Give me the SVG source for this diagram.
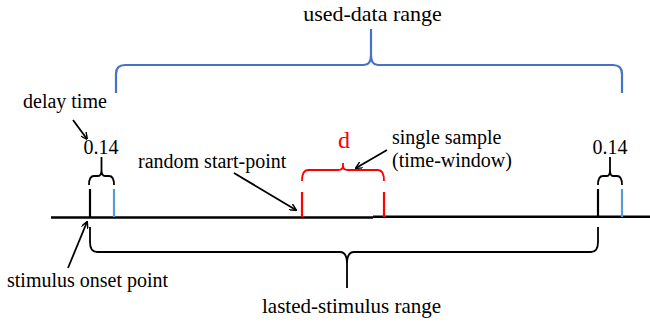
<svg xmlns="http://www.w3.org/2000/svg" width="650" height="327" viewBox="0 0 650 327">
  <defs>
    <style>
      text { font-family: "Liberation Serif", "Times New Roman", serif; fill: #000; }
      .t20 { font-size: 20px; }
      .line { fill: none; stroke: #000; stroke-width: 2.5; }
      .tick { fill: none; stroke: #000; stroke-width: 2.2; }
      .tick-blue { fill: none; stroke: #5B9BD5; stroke-width: 2.2; }
      .tick-red { fill: none; stroke: #FF0000; stroke-width: 2.2; }
      .brace { fill: none; stroke: #000; stroke-width: 1.8; stroke-linejoin: round; }
      .brace-blue { fill: none; stroke: #4472C4; stroke-width: 2.2; stroke-linejoin: round; }
      .brace-red { fill: none; stroke: #FF0000; stroke-width: 1.8; stroke-linejoin: round; }
      .arrow { fill: none; stroke: #000; stroke-width: 1.8; marker-end: url(#head); }
    </style>
    <marker id="head" viewBox="0 0 10 10" refX="9" refY="5" markerWidth="7" markerHeight="7" markerUnits="userSpaceOnUse" orient="auto">
      <path d="M0,0 L10,5 L0,10" fill="none" stroke="#000" stroke-width="2"/>
    </marker>
  </defs>

  <!-- time axis -->
  <g id="axis">
    <line class="line" x1="51" y1="217.5" x2="373" y2="217.5"/>
    <line class="line" x1="373" y1="216.8" x2="650" y2="216.8"/>
  </g>

  <!-- stimulus onset / end ticks with delay marks -->
  <g id="onset-start">
    <line class="tick" x1="90" y1="189" x2="90" y2="217"/>
    <line class="tick-blue" x1="114" y1="189" x2="114" y2="217"/>
    <path class="brace" d="M89,185 Q89,176 94,176 L98,176 Q101.5,176 101.5,170 L101.5,157 M101.5,170 Q101.5,176 105,176 L109,176 Q114,176 114,185"/>
    <text class="t20" x="101" y="154" text-anchor="middle">0.14</text>
  </g>

  <g id="onset-end">
    <line class="tick" x1="598" y1="189" x2="598" y2="217"/>
    <line class="tick-blue" x1="622" y1="189" x2="622" y2="217"/>
    <path class="brace" d="M598,185 Q598,176 603,176 L607,176 Q610,176 610,170 L610,157 M610,170 Q610,176 613,176 L617,176 Q622,176 622,185"/>
    <text class="t20" x="610" y="154" text-anchor="middle">0.14</text>
  </g>

  <!-- sample time-window -->
  <g id="sample-window">
    <line class="tick-red" x1="302" y1="192" x2="302" y2="217"/>
    <line class="tick-red" x1="384" y1="192" x2="384" y2="217"/>
    <path class="brace-red" d="M302,181 Q302,170 308,170 L338,170 Q343,170 343,166 L343,163 M343,166 Q343,170 348,170 L378,170 Q384,170 384,181"/>
    <text x="344" y="148" text-anchor="middle" style="font-size:24px; fill:#FF0000">d</text>
  </g>

  <!-- used-data range brace -->
  <g id="used-data-range">
    <path class="brace-blue" d="M116,93 L116,74 Q116,65 125,65 L364,65 Q371,65 371,55 L371,29 M371,55 Q371,65 378,65 L613,65 Q622,65 622,74 L622,93"/>
    <text x="372.5" y="21" text-anchor="middle" style="font-size:22px">used-data range</text>
  </g>

  <!-- lasted-stimulus range brace -->
  <g id="lasted-stimulus-range">
    <path class="brace" d="M90,227 L90,242 Q90,252 97,252 L340,252 Q347,252 347,264 L347,288 M347,264 Q347,252 354,252 L591,252 Q598,252 598,242 L598,227"/>
    <text x="262" y="313" style="font-size:21px">lasted-stimulus range</text>
  </g>

  <!-- annotation labels -->
  <g id="label-delay">
    <text class="t20" x="23" y="108">delay time</text>
  </g>
  <g id="label-random-start">
    <text class="t20" x="138" y="168">random start-point</text>
  </g>
  <g id="label-single-sample">
    <text class="t20" x="392" y="144">single sample</text>
    <text class="t20" x="392" y="167">(time-window)</text>
  </g>
  <g id="label-onset">
    <text class="t20" x="7" y="287">stimulus onset point</text>
  </g>

  <!-- pointer arrows -->
  <g id="connectors">
    <line class="arrow" x1="73" y1="120" x2="87" y2="139"/>
    <line class="arrow" x1="234" y1="173" x2="296" y2="210"/>
    <line class="arrow" x1="387" y1="150" x2="356" y2="168"/>
    <line class="arrow" x1="68" y1="268" x2="87" y2="222"/>
  </g>
</svg>
